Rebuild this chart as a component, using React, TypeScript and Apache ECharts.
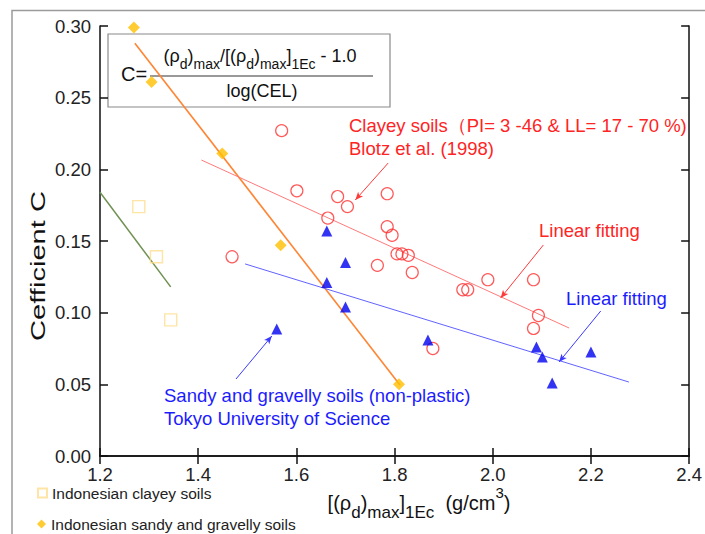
import React, { useEffect, useRef } from "react";
import * as echarts from "echarts";

const FONT = "'Liberation Sans', Arial, Helvetica, sans-serif";

// Indonesian clayey soils (hollow squares) and their trend line
const indoClayX = [1.279, 1.315, 1.344];
const indoClayY = [0.174, 0.139, 0.095];
const indoClayFitX = [1.2, 1.344];
const indoClayFitY = [0.184, 0.118];

// Indonesian sandy and gravelly soils (diamonds) and their trend line
const indoSandX = [1.269, 1.305, 1.449, 1.568, 1.809];
const indoSandY = [0.299, 0.261, 0.211, 0.147, 0.05];
const indoSandFitX = [1.271, 1.811];
const indoSandFitY = [0.288, 0.0495];

// Clayey soils, Blotz et al. (1998)
const blotzX = [1.570, 1.601, 1.684, 1.704, 1.664, 1.785, 1.785, 1.795, 1.805, 1.815, 1.828, 1.765, 1.836, 1.469, 1.939, 1.949, 1.990, 2.083, 2.093, 2.083, 1.878];
const blotzY = [0.227, 0.185, 0.181, 0.174, 0.166, 0.183, 0.160, 0.154, 0.141, 0.141, 0.140, 0.133, 0.128, 0.139, 0.116, 0.116, 0.123, 0.123, 0.098, 0.089, 0.075];
const blotzFitX = [1.4065, 2.1555];
const blotzFitY = [0.2065, 0.0893];

// Sandy and gravelly soils, Tokyo University of Science
const tokyoX = [1.662, 1.700, 1.662, 1.700, 1.560, 1.868, 2.089, 2.101, 2.200, 2.121];
const tokyoY = [0.157, 0.135, 0.121, 0.104, 0.0886, 0.081, 0.076, 0.069, 0.0726, 0.051];
const tokyoFitX = [1.4955, 2.2773];
const tokyoFitY = [0.134, 0.0516];

// Pointer arrows: [x0, y0, x1, y1] in data units, head at the end
const arrowBlotz = [1.787, 0.2044, 1.72, 0.1786];
const arrowBlotzFit = [2.103, 0.1472, 2.016, 0.1102];
const arrowTokyoFit = [2.22, 0.1012, 2.135, 0.0656];
const arrowTokyo = [1.477, 0.0537, 1.55, 0.0837];

const pairs = (xs: number[], ys: number[]) => xs.map((x, i) => [x, ys[i]]);

const RED = "#ff2424";
const BLUE = "#1c1cff";

function arrow(a: number[], color: string) {
  return [
    { coord: [a[0], a[1]], lineStyle: { color, width: 1 } },
    { coord: [a[2], a[3]] },
  ];
}

const legendBase = {
  orient: "vertical",
  left: 32,
  itemWidth: 9,
  itemHeight: 9,
  itemTextGap: 8,
  selectedMode: false,
  textStyle: { fontSize: 15.5, color: "#222", fontFamily: FONT },
};

export default function App() {
  const ref = useRef<HTMLDivElement>(null);

  useEffect(() => {
    if (!ref.current) return;
    const chart = echarts.init(ref.current, null, { renderer: "svg" });

    const axisCommon = {
      type: "value" as const,
      axisLine: { show: true, lineStyle: { color: "#111", width: 1.5 } },
      axisTick: { show: true, inside: true, length: 8, lineStyle: { color: "#111", width: 1.5 } },
      splitLine: { show: false },
    };

    const option: any = {
      animation: false,
      backgroundColor: "#ffffff",
      grid: { left: 100, top: 26, width: 593, height: 430, containLabel: false },
      xAxis: [
        {
          ...axisCommon,
          min: 1.2,
          max: 2.4,
          interval: 0.2,
          position: "bottom",
          axisLabel: {
            margin: 9,
            fontSize: 18.5,
            color: "#222",
            fontFamily: FONT,
            formatter: (v: number) => v.toFixed(1),
          },
        },
        {
          ...axisCommon,
          min: 1.2,
          max: 2.4,
          interval: 0.2,
          position: "top",
          axisLabel: { show: false },
        },
      ],
      yAxis: [
        {
          ...axisCommon,
          min: 0,
          max: 0.3,
          interval: 0.05,
          position: "left",
          axisLabel: {
            margin: 9,
            fontSize: 18.5,
            color: "#222",
            fontFamily: FONT,
            formatter: (v: number) => v.toFixed(2),
          },
        },
        {
          ...axisCommon,
          min: 0,
          max: 0.3,
          interval: 0.05,
          position: "right",
          axisLabel: { show: false },
        },
      ],
      legend: [
        {
          ...legendBase,
          top: 480,
          data: [{ name: "Indonesian clayey soils", icon: "rect" }],
        },
        {
          ...legendBase,
          top: 511,
          data: [{ name: "Indonesian sandy and gravelly soils", icon: "diamond" }],
        },
      ],
      series: [
        {
          name: "indoClayFit",
          type: "line",
          data: pairs(indoClayFitX, indoClayFitY),
          showSymbol: false,
          lineStyle: { color: "#6f9152", width: 1.5 },
          z: 2,
        },
        {
          name: "indoSandFit",
          type: "line",
          data: pairs(indoSandFitX, indoSandFitY),
          showSymbol: false,
          lineStyle: { color: "#ff8533", width: 1.6 },
          z: 2,
        },
        {
          name: "blotzFit",
          type: "line",
          data: pairs(blotzFitX, blotzFitY),
          showSymbol: false,
          lineStyle: { color: "#ff7a7a", width: 1 },
          z: 2,
        },
        {
          name: "tokyoFit",
          type: "line",
          data: pairs(tokyoFitX, tokyoFitY),
          showSymbol: false,
          lineStyle: { color: "#6262ff", width: 1 },
          z: 2,
        },
        {
          name: "Indonesian clayey soils",
          type: "scatter",
          data: pairs(indoClayX, indoClayY),
          symbol: "rect",
          symbolSize: 12,
          itemStyle: { color: "rgba(255,255,255,0)", borderColor: "#ffdf8f", borderWidth: 1.4 },
          z: 3,
        },
        {
          name: "Indonesian sandy and gravelly soils",
          type: "scatter",
          data: pairs(indoSandX, indoSandY),
          symbol: "diamond",
          symbolSize: 12,
          itemStyle: { color: "#ffc000" },
          z: 4,
        },
        {
          name: "Blotz",
          type: "scatter",
          data: pairs(blotzX, blotzY),
          symbol: "circle",
          symbolSize: 12,
          itemStyle: { color: "rgba(255,255,255,0)", borderColor: "#ff3030", borderWidth: 1.2 },
          z: 3,
        },
        {
          name: "Tokyo",
          type: "scatter",
          data: pairs(tokyoX, tokyoY),
          symbol: "triangle",
          symbolSize: 11,
          itemStyle: { color: "#0000f0" },
          z: 4,
        },
        {
          name: "arrows",
          type: "line",
          data: [],
          markLine: {
            silent: true,
            symbol: ["none", "arrow"],
            symbolSize: [5, 8],
            label: { show: false },
            lineStyle: { type: "solid", width: 1 },
            data: [
              arrow(arrowBlotz, "#ff3a3a"),
              arrow(arrowBlotzFit, "#ff3a3a"),
              arrow(arrowTokyoFit, "#3a3aff"),
              arrow(arrowTokyo, "#3a3aff"),
            ],
          },
        },
      ],
      graphic: [
        // outer frame
        {
          type: "polyline",
          shape: { points: [[12, 534], [12, 10.5], [705, 10.5]] },
          style: { stroke: "#9a9a9a", lineWidth: 1.5, fill: "none" },
          silent: true,
        },
        // formula box
        {
          type: "rect",
          shape: { x: 108, y: 34, width: 282, height: 73 },
          style: { stroke: "#8a8a8a", lineWidth: 1.2, fill: "none" },
          silent: true,
        },
        {
          type: "text",
          x: 121,
          y: 74,
          style: { text: "C=", font: `20px ${FONT}`, fill: "#111", align: "left", verticalAlign: "middle" },
        },
        {
          type: "line",
          shape: { x1: 150, y1: 76, x2: 373, y2: 76 },
          style: { stroke: "#333", lineWidth: 1 },
        },
        {
          type: "text",
          x: 260,
          y: 56,
          style: {
            text: "{m|(ρ}{s|d}{m|)}{s|max}{m|/[(ρ}{s|d}{m|)}{s|max}{m|]}{s|1Ec}{m| - 1.0}",
            align: "center",
            verticalAlign: "middle",
            fill: "#111",
            rich: {
              m: { fontSize: 18, fontFamily: FONT, lineHeight: 22, fill: "#111" },
              s: { fontSize: 14, fontFamily: FONT, lineHeight: 14, padding: [16, 0, 0, 0], fill: "#111" },
            },
          },
        },
        {
          type: "text",
          x: 262,
          y: 91,
          style: { text: "log(CEL)", font: `18px ${FONT}`, fill: "#111", align: "center", verticalAlign: "middle" },
        },
        // axis titles
        {
          type: "text",
          x: 38,
          y: 266,
          rotation: Math.PI / 2,
          scaleX: 1.42,
          style: { text: "Cefficient C", font: `20.5px ${FONT}`, fill: "#111", align: "center", verticalAlign: "middle" },
        },
        {
          type: "text",
          x: 419,
          y: 503,
          style: {
            text: "{m|[(ρ}{s|d}{m|)}{s|max}{m|]}{s|1Ec}{m|  (g/cm}{p|3}{m|)}",
            align: "center",
            verticalAlign: "middle",
            fill: "#111",
            rich: {
              m: { fontSize: 20, fontFamily: FONT, lineHeight: 24, fill: "#111" },
              s: { fontSize: 17, fontFamily: FONT, lineHeight: 17, padding: [18, 0, 0, 0], fill: "#111" },
              p: { fontSize: 15, fontFamily: FONT, lineHeight: 15, padding: [0, 0, 22, 0], fill: "#111" },
            },
          },
        },
        // annotations
        {
          type: "text",
          x: 349,
          y: 125,
          style: { text: "Clayey soils（PI= 3 -46 & LL= 17 - 70 %)", font: `18.5px ${FONT}`, fill: RED, align: "left", verticalAlign: "middle" },
        },
        {
          type: "text",
          x: 349,
          y: 148,
          style: { text: "Blotz et al. (1998)", font: `18.5px ${FONT}`, fill: RED, align: "left", verticalAlign: "middle" },
        },
        {
          type: "text",
          x: 539,
          y: 230,
          style: { text: "Linear fitting", font: `18.5px ${FONT}`, fill: RED, align: "left", verticalAlign: "middle" },
        },
        {
          type: "text",
          x: 566,
          y: 298,
          style: { text: "Linear fitting", font: `18.5px ${FONT}`, fill: BLUE, align: "left", verticalAlign: "middle" },
        },
        {
          type: "text",
          x: 164,
          y: 395,
          style: { text: "Sandy and gravelly soils (non-plastic)", font: `18.5px ${FONT}`, fill: BLUE, align: "left", verticalAlign: "middle" },
        },
        {
          type: "text",
          x: 164,
          y: 418,
          style: { text: "Tokyo University of Science", font: `18.5px ${FONT}`, fill: BLUE, align: "left", verticalAlign: "middle" },
        },
      ],
    };

    chart.setOption(option);
    return () => chart.dispose();
  }, []);

  return (
    <div
      ref={ref}
      style={{ position: "fixed", left: 0, top: 0, width: 705, height: 534, background: "#fff" }}
    />
  );
}
